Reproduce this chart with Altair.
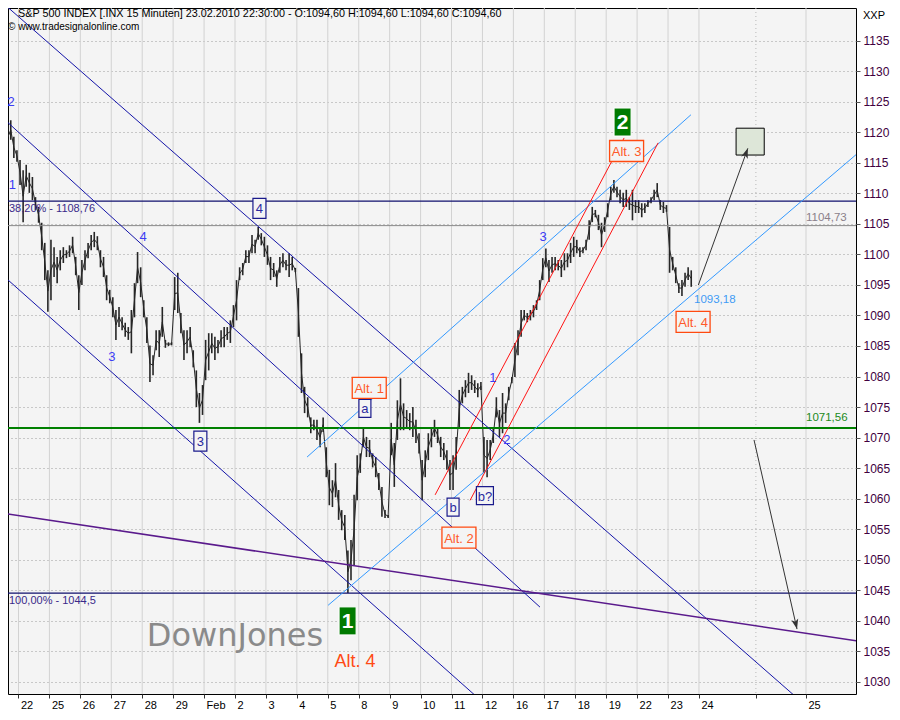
import altair as alt
import pandas as pd

FONT = "Liberation Sans"

# ---------------- price data (15-min bars, sampled ~10 per session) ----------------
# session index: 0 = 22 Jan 2010 ... 21 = 23 Feb 2010 ; -1 = 21 Jan (only its end visible)
SESSIONS = list(range(-1, 22))
FIRST_SLOT = {-1: 5}
SLOTS = 10

HIGHS = [
    [1119.6, 1121.2, 1122.0, 1119.3, 1117.1],
    [1115.5, 1113.8, 1114.7, 1113.4, 1112.7, 1109.4, 1107.8, 1105.2, 1101.9, 1097.4],
    [1102.4, 1101.2, 1099.6, 1100.7, 1101.2, 1100.7, 1101.5, 1102.9, 1099.6, 1096.6],
    [1099.1, 1100.7, 1101.9, 1103.2, 1103.7, 1103.0, 1100.7, 1099.6, 1096.6, 1094.2],
    [1093.0, 1090.9, 1091.4, 1089.7, 1088.8, 1088.1, 1090.9, 1095.3, 1100.4, 1097.9],
    [1092.5, 1089.7, 1085.1, 1083.5, 1087.6, 1087.6, 1091.4, 1086.0, 1085.6, 1085.6],
    [1096.3, 1097.0, 1090.4, 1087.6, 1087.6, 1088.1, 1084.3, 1081.0, 1077.3, 1078.6],
    [1086.0, 1087.1, 1087.1, 1086.5, 1086.0, 1087.6, 1088.1, 1088.1, 1089.2, 1091.7],
    [1095.8, 1097.9, 1098.6, 1100.7, 1100.7, 1103.2, 1102.4, 1104.5, 1103.5, 1102.9],
    [1101.5, 1099.6, 1098.6, 1097.4, 1099.6, 1100.2, 1099.1, 1100.2, 1099.6, 1097.8],
    [1094.5, 1083.8, 1078.3, 1076.6, 1073.3, 1072.9, 1072.9, 1071.7, 1073.3, 1068.4],
    [1064.7, 1063.0, 1065.8, 1061.4, 1058.1, 1057.3, 1051.5, 1053.2, 1060.6, 1067.1],
    [1067.4, 1071.7, 1070.1, 1069.6, 1067.4, 1066.8, 1064.2, 1061.9, 1058.1, 1057.3],
    [1072.4, 1069.1, 1076.1, 1079.7, 1075.6, 1074.5, 1074.0, 1075.0, 1072.9, 1070.7],
    [1066.3, 1067.9, 1070.7, 1071.7, 1072.9, 1071.7, 1070.1, 1069.1, 1067.9, 1066.3],
    [1067.1, 1070.1, 1077.8, 1078.3, 1079.4, 1080.6, 1080.2, 1079.4, 1078.9, 1079.1],
    [1070.1, 1069.6, 1069.6, 1071.7, 1076.6, 1074.5, 1077.3, 1075.6, 1078.3, 1079.9],
    [1085.5, 1087.6, 1090.9, 1090.9, 1090.4, 1090.9, 1091.7, 1092.5, 1095.8, 1099.4],
    [1101.0, 1099.1, 1099.6, 1099.6, 1099.1, 1099.1, 1100.2, 1100.2, 1101.9, 1102.9],
    [1102.4, 1101.2, 1101.2, 1102.4, 1105.6, 1107.8, 1107.3, 1106.5, 1105.2, 1106.1],
    [1108.4, 1111.1, 1112.2, 1111.1, 1110.6, 1110.1, 1110.6, 1109.4, 1110.6, 1108.9],
    [1108.9, 1108.4, 1108.4, 1108.9, 1109.4, 1110.6, 1111.7, 1108.9, 1108.6, 1108.1],
    [1104.5, 1099.6, 1097.9, 1095.3, 1095.8, 1097.0, 1097.9, 1097.4],
]
LOWS = [
    [1115.5, 1117.1, 1118.8, 1115.8, 1115.2],
    [1111.4, 1105.3, 1111.1, 1110.1, 1108.9, 1107.3, 1105.2, 1100.7, 1095.8, 1090.6],
    [1092.5, 1096.3, 1095.3, 1097.4, 1098.6, 1099.4, 1099.6, 1100.2, 1096.6, 1090.9],
    [1095.0, 1097.4, 1099.4, 1100.7, 1101.2, 1100.7, 1097.9, 1096.3, 1092.5, 1092.0],
    [1089.7, 1086.0, 1088.1, 1087.6, 1086.5, 1086.0, 1083.8, 1089.7, 1095.3, 1093.0],
    [1089.7, 1085.5, 1079.1, 1080.2, 1084.3, 1083.2, 1086.5, 1084.7, 1085.0, 1085.1],
    [1090.9, 1090.4, 1087.1, 1082.7, 1083.8, 1084.8, 1081.5, 1075.0, 1072.4, 1073.7],
    [1079.4, 1081.0, 1083.8, 1082.7, 1083.8, 1084.8, 1084.8, 1086.0, 1085.5, 1088.1],
    [1089.2, 1095.8, 1096.6, 1098.6, 1098.6, 1100.2, 1100.2, 1102.4, 1101.5, 1099.6],
    [1098.3, 1095.8, 1096.3, 1094.7, 1097.0, 1097.9, 1097.4, 1096.3, 1097.4, 1097.1],
    [1086.5, 1077.3, 1074.0, 1073.3, 1070.7, 1071.2, 1069.6, 1068.4, 1070.9, 1063.5],
    [1058.9, 1058.6, 1060.2, 1056.5, 1054.8, 1053.2, 1044.5, 1046.6, 1049.1, 1059.7],
    [1064.2, 1068.4, 1066.8, 1066.8, 1065.1, 1063.5, 1061.4, 1057.0, 1056.8, 1056.8],
    [1067.1, 1061.9, 1069.6, 1071.2, 1071.2, 1071.7, 1071.2, 1070.1, 1069.1, 1067.4],
    [1059.7, 1063.5, 1066.3, 1068.4, 1070.1, 1069.1, 1066.8, 1066.3, 1064.7, 1061.4],
    [1061.4, 1064.7, 1071.7, 1075.6, 1076.6, 1077.3, 1077.8, 1077.3, 1076.6, 1077.8],
    [1064.2, 1063.5, 1066.3, 1069.1, 1073.3, 1070.1, 1070.7, 1072.4, 1076.1, 1078.9],
    [1079.9, 1083.5, 1086.5, 1089.2, 1088.9, 1089.2, 1089.7, 1090.9, 1092.5, 1095.8],
    [1097.9, 1095.5, 1097.0, 1097.4, 1097.4, 1096.3, 1097.4, 1097.9, 1098.6, 1099.6],
    [1100.2, 1099.6, 1100.2, 1100.7, 1102.4, 1105.3, 1106.1, 1104.0, 1101.2, 1103.7],
    [1106.1, 1108.9, 1110.1, 1109.4, 1108.4, 1107.8, 1107.8, 1107.3, 1105.6, 1106.8],
    [1106.8, 1106.1, 1106.8, 1107.8, 1108.4, 1108.9, 1109.4, 1107.3, 1106.8, 1107.0],
    [1097.0, 1097.4, 1095.3, 1093.7, 1093.18, 1094.7, 1095.8, 1094.7],
]

# ---------------- axes ----------------
X_TICKS = list(range(0, 23)) + [23.84, 25.46]
X_TICK_LABELS = ["22", "25", "26", "27", "28", "29", "Feb", "2", "3", "4", "5", "8", "9",
                 "10", "11", "12", "16", "17", "18", "19", "22", "23", "24", "", "25"]
Y_TICKS = list(range(1030, 1140, 5))
X_MIN, X_MAX = -0.339, 27.077
Y_MIN, Y_MAX = 1027.96, 1140.4

# ---------------- horizontal levels ----------------
H_LEVELS = [1108.76, 1104.73, 1071.56, 1044.5]
H_COLORS = ["#10106e", "#8a8a8a", "#008000", "#10106e"]
H_WIDTHS = [1.3, 1.0, 2.0, 1.3]

# ---------------- trend / channel lines (start t, start p, end t, end p) ----------------
SEG_T1 = [-0.50, -0.533, -0.533, -0.533, 9.33, 10.01, 13.47, 14.60]
SEG_P1 = [1141.2, 1122.5, 1096.7, 1057.6, 1066.8, 1042.5, 1060.6, 1059.7]
SEG_T2 = [25.40, 16.86, 15.08, 27.18, 21.74, 27.18, 19.58, 20.68]
SEG_P2 = [1026.3, 1042.2, 1026.3, 1036.6, 1122.9, 1116.8, 1119.1, 1118.3]
SEG_COLORS = ["#1414a8", "#1414a8", "#1414a8", "#5a1a8c", "#3399ff", "#3399ff", "#ff1414", "#ff1414"]
SEG_WIDTHS = [1, 1, 1, 1.5, 1, 1, 1, 1]

# ---------------- arrows ----------------
ARROW_T1 = [21.98, 23.78]
ARROW_P1 = [1095.0, 1069.6]
ARROW_T2 = [23.58, 25.17]
ARROW_P2 = [1117.4, 1038.6]
ARROW_ANGLE = [20, 167]

TARGET_T = [23.20, 24.11]
TARGET_P = [1116.3, 1120.7]

# ---------------- labels ----------------
WAVE_TEXT = ["2", "1", "4", "3", "3", "1", "2"]
WAVE_T = [-0.24, -0.20, 4.03, 3.02, 16.96, 15.34, 15.79]
WAVE_P = [1125.0, 1111.4, 1102.9, 1083.2, 1102.9, 1079.7, 1069.6]

NAVY_TEXT = ["4", "3", "a", "b", "b?"]
NAVY_T = [7.79, 5.88, 11.20, 14.05, 15.08]
NAVY_P = [1107.56, 1069.42, 1074.78, 1058.6, 1060.48]
NAVY_W = [13, 13, 12, 12, 17]
NAVY_H = [20, 20, 18, 18, 18]

ALT_TEXT = ["Alt. 1", "Alt. 2", "Alt. 3", "Alt. 4"]
ALT_T = [11.34, 14.24, 19.66, 21.81]
ALT_P = [1078.14, 1053.6, 1116.96, 1088.96]

GREEN_TEXT = ["2", "1"]
GREEN_T = [19.53, 10.64]
GREEN_P = [1121.71, 1039.94]

LEVEL_TEXT = ["1104,73", "1071,56", "1093,18"]
LEVEL_T = [25.46, 25.46, 21.84]
LEVEL_P = [1105.92, 1073.19, 1092.53]
LEVEL_COLORS = ["#8a7f8a", "#1a8a1a", "#3f9bf5"]

FIB_TEXT = ["38,20% - 1108,76", "100,00% - 1044,5"]
FIB_P = [1107.45, 1043.19]

TITLE = "S&P 500 INDEX [.INX  15 Minuten] 23.02.2010 22:30:00 - O:1094,60 H:1094,60 L:1094,60 C:1094,60"
COPYRIGHT = "\u00a9 www.tradesignalonline.com"

# ---------------- build tables ----------------
rows = []
for s, his, los in zip(SESSIONS, HIGHS, LOWS):
    start = FIRST_SLOT.get(s, 0)
    for k, (h, l) in enumerate(zip(his, los)):
        rows.append({"t": s + (start + k + 0.5) / SLOTS, "hi": h, "lo": l, "mid": (h + l) / 2})
price = pd.DataFrame(rows)

xs = alt.Scale(domain=[X_MIN, X_MAX], nice=False, zero=False)
ys = alt.Scale(domain=[Y_MIN, Y_MAX], nice=False, zero=False)
label_map = "{" + ",".join(f"'{v}':'{l}'" for v, l in zip(X_TICKS, X_TICK_LABELS)) + "}[datum.value]"
xaxis = alt.Axis(values=X_TICKS, labelExpr=label_map, title=None, grid=False, domain=False,
                 tickColor="#333333", tickSize=4, labelAlign="left", labelOffset=2, labelPadding=1,
                 labelBaseline="top", labelFont=FONT, labelFontSize=11, labelColor="#000000",
                 labelOverlap=False, labelFlush=False)
yaxis = alt.Axis(orient="right", values=Y_TICKS, format="d", title=None, grid=True, gridDash=[1, 3],
                 gridColor="#9c9c9c", domain=False, tickSize=4, tickColor="#555555",
                 labelColor="#400040", labelFont=FONT, labelFontSize=12, labelPadding=3,
                 labelOverlap=False, labelFlush=False)


def X(f):
    return alt.X(f, type="quantitative", scale=xs, axis=xaxis)


def Y(f):
    return alt.Y(f, type="quantitative", scale=ys, axis=yaxis)


def box_path(w, h):
    r = h / w
    return f"M-1,-{r:.3f}L1,-{r:.3f}L1,{r:.3f}L-1,{r:.3f}Z"


vgrid = pd.DataFrame({"t": X_TICKS, "dotted": [v == 23.84 for v in X_TICKS]})
grid_solid = alt.Chart(vgrid[~vgrid.dotted]).mark_rule(color="#d2d2d2", strokeWidth=1).encode(x=X("t"))
grid_dot = alt.Chart(vgrid[vgrid.dotted]).mark_rule(color="#b8b8b8", strokeWidth=1, strokeDash=[1, 3]).encode(x=X("t"))

bars = alt.Chart(price).mark_rule(color="#262626", strokeWidth=1.6, clip=True).encode(
    x=X("t"), y=Y("lo"), y2="hi")
closeline = alt.Chart(price).mark_line(color="#262626", strokeWidth=1, clip=True).encode(
    x=X("t"), y=Y("mid"))

hl = pd.DataFrame({"p": H_LEVELS, "c": H_COLORS, "w": H_WIDTHS})
hlines = alt.Chart(hl).mark_rule().encode(
    y=Y("p"), color=alt.Color("c:N", scale=None), strokeWidth=alt.StrokeWidth("w:Q", scale=None))

seg = pd.DataFrame({"t": SEG_T1, "p": SEG_P1, "t2": SEG_T2, "p2": SEG_P2, "c": SEG_COLORS, "w": SEG_WIDTHS})
segs = alt.Chart(seg).mark_rule(clip=True).encode(
    x=X("t"), y=Y("p"), x2="t2", y2="p2",
    color=alt.Color("c:N", scale=None), strokeWidth=alt.StrokeWidth("w:Q", scale=None))

tgt = pd.DataFrame({"t": [TARGET_T[0]], "t2": [TARGET_T[1]], "p": [TARGET_P[0]], "p2": [TARGET_P[1]]})
target = alt.Chart(tgt).mark_rect(fill="#dde6d8", stroke="#000000", strokeWidth=1).encode(
    x=X("t"), x2="t2", y=Y("p"), y2="p2")

arr = pd.DataFrame({"t": ARROW_T1, "p": ARROW_P1, "t2": ARROW_T2, "p2": ARROW_P2, "ang": ARROW_ANGLE})
arrow_lines = alt.Chart(arr).mark_rule(color="#333333", strokeWidth=1).encode(
    x=X("t"), y=Y("p"), x2="t2", y2="p2")
arrow_heads = alt.Chart(arr).mark_point(
    shape="M0,0L-0.35,1L0,0.75L0.35,1Z", size=400, filled=True, color="#333333", opacity=1
).encode(x=X("t2"), y=Y("p2"), angle=alt.Angle("ang:Q", scale=None))

wave = pd.DataFrame({"text": WAVE_TEXT, "t": WAVE_T, "p": WAVE_P})
wave_txt = alt.Chart(wave).mark_text(font=FONT, fontSize=13, color="#3c3cf5").encode(
    x=X("t"), y=Y("p"), text="text:N")

navy = pd.DataFrame({"text": NAVY_TEXT, "t": NAVY_T, "p": NAVY_P,
                     "shape": [box_path(w, h) for w, h in zip(NAVY_W, NAVY_H)],
                     "size": [w * w for w in NAVY_W]})
navy_box = alt.Chart(navy).mark_point(fill="#f4f4f4", stroke="#1a1a8c", strokeWidth=1.2,
                                      opacity=1, fillOpacity=1).encode(
    x=X("t"), y=Y("p"), shape=alt.Shape("shape:N", scale=None), size=alt.Size("size:Q", scale=None))
navy_txt = alt.Chart(navy).mark_text(font=FONT, fontSize=13, color="#2a2aa0", dy=1).encode(
    x=X("t"), y=Y("p"), text="text:N")

alts = pd.DataFrame({"text": ALT_TEXT, "t": ALT_T, "p": ALT_P})
alt_box = alt.Chart(alts).mark_point(shape=box_path(34, 21), size=34 * 34, fill="#f4f4f4",
                                     stroke="#ff4a10", strokeWidth=1.3, opacity=1, fillOpacity=1).encode(
    x=X("t"), y=Y("p"))
alt_txt = alt.Chart(alts).mark_text(font=FONT, fontSize=13, color="#ff5a2a", dy=1).encode(
    x=X("t"), y=Y("p"), text="text:N")

greens = pd.DataFrame({"text": GREEN_TEXT, "t": GREEN_T, "p": GREEN_P})
green_box = alt.Chart(greens).mark_point(shape=box_path(17, 28), size=17 * 17, fill="#007a00",
                                         stroke="#ffffff", strokeWidth=1, opacity=1, fillOpacity=1).encode(
    x=X("t"), y=Y("p"))
green_txt = alt.Chart(greens).mark_text(font=FONT, fontSize=21, fontWeight="bold", color="#ffffff", dy=1).encode(
    x=X("t"), y=Y("p"), text="text:N")

lev = pd.DataFrame({"text": LEVEL_TEXT, "t": LEVEL_T, "p": LEVEL_P, "c": LEVEL_COLORS})
lev_txt = alt.Chart(lev).mark_text(font=FONT, fontSize=11.5, align="left").encode(
    x=X("t"), y=Y("p"), text="text:N", color=alt.Color("c:N", scale=None))

fib = pd.DataFrame({"text": FIB_TEXT, "p": FIB_P})
fib_txt = alt.Chart(fib).mark_text(font=FONT, fontSize=11, align="left", color="#3a2a8a").encode(
    x=alt.value(1), y=Y("p"), text="text:N")

big = pd.DataFrame({"text": ["Alt. 4", "DownJones"], "t": [10.88, 7.0], "p": [1033.27, 1037.45]})
alt4_big = alt.Chart(big.iloc[[0]]).mark_text(font=FONT, fontSize=18, color="#ff4a14").encode(
    x=X("t"), y=Y("p"), text="text:N")
downjones = alt.Chart(big.iloc[[1]]).mark_text(font="DejaVu Sans", fontSize=32, color="#8a8a8a").encode(
    x=X("t"), y=Y("p"), text="text:N")

heads = pd.DataFrame({"text": [TITLE, COPYRIGHT, "XXP"], "x": [10, 0, 855], "y": [6, 19, 8],
                      "fs": [10.8, 10, 11]})
head_txt = alt.Chart(heads).mark_text(font=FONT, align="left", color="#000000").encode(
    x=alt.X("x:Q", scale=None), y=alt.Y("y:Q", scale=None), text="text:N",
    size=alt.Size("fs:Q", scale=None))

chart = alt.layer(
    grid_solid, grid_dot, bars, closeline, hlines, segs, target, arrow_lines, arrow_heads,
    wave_txt, navy_box, navy_txt, alt_box, alt_txt, green_box, green_txt,
    lev_txt, fib_txt, alt4_big, downjones, head_txt
).properties(
    width=848, height=686,
    padding={"left": 0, "top": 0, "right": 36, "bottom": 18},
    autosize=alt.AutoSizeParams(type="none"),
    background="#ffffff",
).configure_view(stroke="#000000", strokeWidth=1, fill="#f4f4f4")

chart.save("out.html", embed_options={"renderer": "svg", "actions": False})
